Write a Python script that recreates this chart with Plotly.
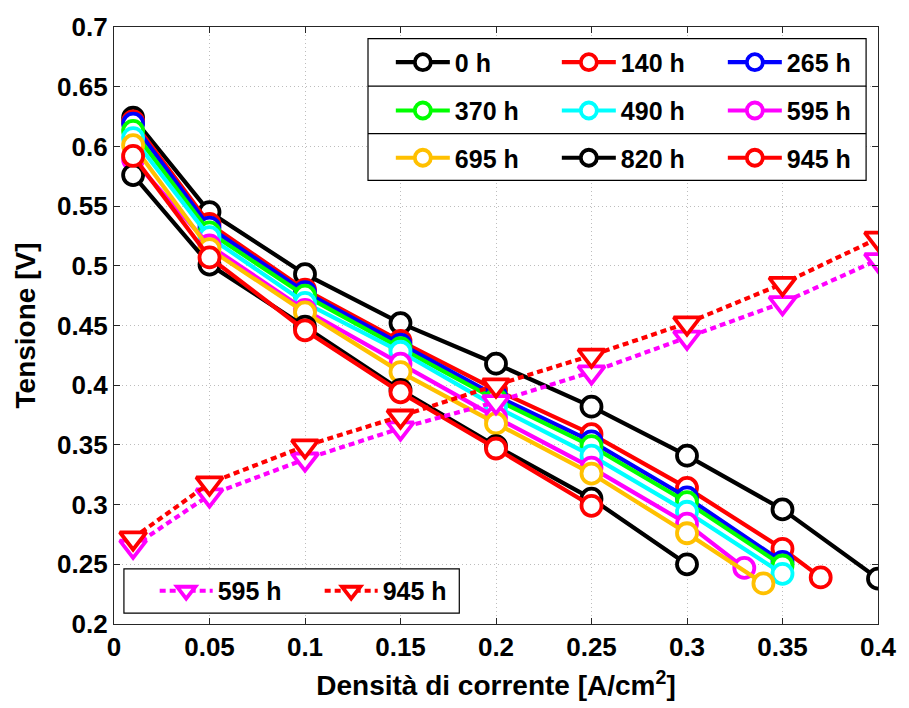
import plotly.graph_objects as go

# Current density [A/cm^2] for each ageing step
j_0h = [0.01, 0.05, 0.10, 0.15, 0.20, 0.25, 0.30, 0.35, 0.40]
j_140h = [0.01, 0.05, 0.10, 0.15, 0.20, 0.25, 0.30, 0.35, 0.37]
j_265h = [0.01, 0.05, 0.10, 0.15, 0.20, 0.25, 0.30, 0.35]
j_370h = [0.01, 0.05, 0.10, 0.15, 0.20, 0.25, 0.30, 0.35]
j_490h = [0.01, 0.05, 0.10, 0.15, 0.20, 0.25, 0.30, 0.35]
j_595h = [0.01, 0.05, 0.10, 0.15, 0.20, 0.25, 0.30, 0.33]
j_695h = [0.01, 0.05, 0.10, 0.15, 0.20, 0.25, 0.30, 0.34]
j_820h = [0.01, 0.05, 0.10, 0.15, 0.20, 0.25, 0.30]
j_945h = [0.01, 0.05, 0.10, 0.15, 0.20, 0.25]

# Cell voltage [V]
v_0h = [0.624, 0.545, 0.493, 0.452, 0.418, 0.382, 0.341, 0.296, 0.238]
v_140h = [0.621, 0.535, 0.480, 0.437, 0.396, 0.359, 0.314, 0.263, 0.239]
v_265h = [0.619, 0.532, 0.478, 0.434, 0.391, 0.353, 0.306, 0.252]
v_370h = [0.613, 0.528, 0.475, 0.431, 0.388, 0.349, 0.302, 0.249]
v_490h = [0.607, 0.524, 0.469, 0.428, 0.382, 0.341, 0.294, 0.242]
v_595h = [0.589, 0.517, 0.463, 0.418, 0.373, 0.331, 0.284, 0.247]
v_695h = [0.601, 0.514, 0.461, 0.411, 0.368, 0.326, 0.276, 0.234]
v_820h = [0.576, 0.501, 0.449, 0.396, 0.349, 0.305, 0.250]
v_945h = [0.592, 0.507, 0.446, 0.394, 0.347, 0.299]

# Second set of curves (triangles, dotted) at 595 h and 945 h
j_tri = [0.01, 0.05, 0.10, 0.15, 0.20, 0.25, 0.30, 0.35, 0.40]
v_tri_595h = [0.265, 0.308, 0.338, 0.364, 0.386, 0.411, 0.440, 0.469, 0.505]
v_tri_945h = [0.272, 0.318, 0.349, 0.374, 0.400, 0.425, 0.452, 0.485, 0.523]

labels = ["0 h", "140 h", "265 h", "370 h", "490 h", "595 h", "695 h", "820 h", "945 h"]
colors = ["#000000", "#ff0000", "#0000ff", "#00ff00", "#00ffff",
          "#ff00ff", "#ffc000", "#000000", "#ff0000"]
x_sets = [j_0h, j_140h, j_265h, j_370h, j_490h, j_595h, j_695h, j_820h, j_945h]
y_sets = [v_0h, v_140h, v_265h, v_370h, v_490h, v_595h, v_695h, v_820h, v_945h]
legend_ids = ["legend", "legend", "legend", "legend2", "legend2", "legend2",
              "legend3", "legend3", "legend3"]

x_ticks = [0, 0.05, 0.1, 0.15, 0.2, 0.25, 0.3, 0.35, 0.4]
y_ticks = [0.2, 0.25, 0.3, 0.35, 0.4, 0.45, 0.5, 0.55, 0.6, 0.65, 0.7]

FONT = "Liberation Sans, Arial, sans-serif"
W, H = 909, 708
L, R, T, B = 114, 25, 20, 82
PW, PH = W - L - R, H - T - B


def px_x(p):
    return (p - L) / PW


def px_y(p):
    return (H - B - p) / PH


fig = go.Figure()

for xs, ys, name, col, lg in zip(x_sets, y_sets, labels, colors, legend_ids):
    fig.add_trace(go.Scatter(
        x=xs, y=ys, name=name, mode="lines+markers", legend=lg,
        line=dict(color=col, width=4.2),
        marker=dict(symbol="circle", size=20, color="white",
                    line=dict(color=col, width=3.8)),
    ))

for ys, name, col in [(v_tri_595h, "595 h", "#ff00ff"), (v_tri_945h, "945 h", "#ff0000")]:
    fig.add_trace(go.Scatter(
        x=j_tri, y=ys, name=name, mode="lines+markers", legend="legend4",
        line=dict(color=col, width=4.2, dash="6px,4px"),
        marker=dict(symbol="triangle-down", size=23, color="white",
                    line=dict(color=col, width=3.8)),
    ))

legend_common = dict(
    orientation="h", xanchor="left", yanchor="middle",
    bgcolor="rgba(0,0,0,0)", borderwidth=0,
    font=dict(family=FONT, size=25, color="black", weight="bold"),
    entrywidth=97, entrywidthmode="pixels", itemwidth=54,
)

# Frames for the legend boxes (drawn as shapes so rows share borders)
shapes = [
    dict(type="rect", xref="paper", yref="paper",
         x0=px_x(370), x1=px_x(872), y0=px_y(175.7), y1=px_y(31.7),
         fillcolor="white", line=dict(color="black", width=1.2), layer="above"),
    dict(type="line", xref="paper", yref="paper",
         x0=px_x(370), x1=px_x(872), y0=px_y(80), y1=px_y(80),
         line=dict(color="black", width=1.2), layer="above"),
    dict(type="line", xref="paper", yref="paper",
         x0=px_x(370), x1=px_x(872), y0=px_y(128.3), y1=px_y(128.3),
         line=dict(color="black", width=1.2), layer="above"),
    dict(type="rect", xref="paper", yref="paper",
         x0=px_x(124), x1=px_x(462), y0=px_y(615), y1=px_y(570),
         fillcolor="white", line=dict(color="black", width=1.2), layer="above"),
]

axis_common = dict(
    showline=True, linecolor="#262626", linewidth=1.2, mirror="ticks",
    ticks="inside", ticklen=6, tickwidth=1.2, tickcolor="#262626",
    showgrid=True, gridcolor="#bdbdbd", gridwidth=1, griddash="1px,3px",
    zeroline=False,
    tickfont=dict(family=FONT, size=26, color="black", weight="bold"),
)

fig.update_layout(
    width=W, height=H,
    margin=dict(l=L, r=R, t=T, b=B),
    paper_bgcolor="white", plot_bgcolor="white",
    font=dict(family=FONT, color="black"),
    xaxis=dict(axis_common, range=[0, 0.4], tickvals=x_ticks,
               ticktext=[f"{v:g}" for v in x_ticks],
               title=dict(text="Densità di corrente [A/cm<sup>2</sup>]",
                          font=dict(family=FONT, size=28, weight="bold"), standoff=14)),
    yaxis=dict(axis_common, range=[0.2, 0.7], tickvals=y_ticks,
               ticktext=[f"{v:g}" for v in y_ticks],
               title=dict(text="Tensione [V]",
                          font=dict(family=FONT, size=28, weight="bold"), standoff=13)),
    legend=dict(legend_common, x=px_x(393), y=px_y(56)),
    legend2=dict(legend_common, x=px_x(393), y=px_y(105)),
    legend3=dict(legend_common, x=px_x(393), y=px_y(153)),
    legend4=dict(legend_common, itemwidth=53, x=px_x(155), y=px_y(592.5)),
    shapes=shapes,
    showlegend=True,
)

fig.write_html("out.html")
